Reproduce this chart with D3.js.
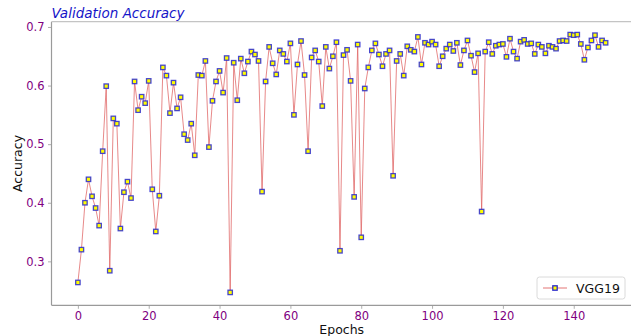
<!DOCTYPE html>
<html>
<head>
<meta charset="utf-8">
<script src="https://cdn.jsdelivr.net/npm/d3@7"></script>
<style>
  html, body { margin: 0; padding: 0; background: #fff; }
  svg { display: block; font-family: "DejaVu Sans", sans-serif; }
</style>
</head>
<body>
<svg id="chart" width="631" height="336"></svg>
<script>
// Validation accuracy of VGG19 per training epoch
const seriesName = "VGG19";
const epochs = d3.range(150);
const accuracy = [
  0.264, 0.320, 0.400, 0.440, 0.411, 0.391, 0.361, 0.488, 0.599, 0.284,
  0.544, 0.535, 0.356, 0.418, 0.436, 0.408, 0.607, 0.558, 0.581, 0.570,
  0.608, 0.423, 0.351, 0.412, 0.631, 0.617, 0.553, 0.605, 0.561, 0.580,
  0.517, 0.507, 0.535, 0.481, 0.618, 0.617, 0.642, 0.495, 0.574, 0.607,
  0.625, 0.588, 0.647, 0.247, 0.639, 0.575, 0.646, 0.621, 0.641, 0.658,
  0.653, 0.642, 0.419, 0.607, 0.666, 0.638, 0.619, 0.660, 0.654, 0.641,
  0.672, 0.550, 0.636, 0.676, 0.618, 0.488, 0.648, 0.660, 0.641, 0.565,
  0.666, 0.629, 0.650, 0.674, 0.318, 0.652, 0.661, 0.608, 0.410, 0.670,
  0.341, 0.595, 0.631, 0.660, 0.672, 0.653, 0.633, 0.654, 0.660, 0.446,
  0.642, 0.654, 0.617, 0.667, 0.661, 0.658, 0.683, 0.636, 0.673, 0.670,
  0.675, 0.670, 0.633, 0.650, 0.663, 0.670, 0.659, 0.673, 0.635, 0.660,
  0.677, 0.651, 0.623, 0.655, 0.385, 0.658, 0.674, 0.654, 0.668, 0.670,
  0.671, 0.649, 0.680, 0.658, 0.646, 0.675, 0.678, 0.671, 0.672, 0.654,
  0.670, 0.666, 0.655, 0.668, 0.666, 0.663, 0.676, 0.677, 0.676, 0.687,
  0.686, 0.687, 0.671, 0.644, 0.665, 0.677, 0.686, 0.666, 0.677, 0.673
];
const xTicks = [0, 20, 40, 60, 80, 100, 120, 140];
const yTicks = [0.3, 0.4, 0.5, 0.6, 0.7];

const svg = d3.select("#chart");
const plot = { left: 51.5, right: 632, top: 21.7, bottom: 305.3 };

// 5% padding around the data range on both axes
function padded(ext) {
  const m = (ext[1] - ext[0]) * 0.05;
  return [ext[0] - m, ext[1] + m];
}
const x = d3.scaleLinear().domain(padded(d3.extent(epochs))).range([plot.left, plot.right]);
const y = d3.scaleLinear().domain(padded(d3.extent(accuracy))).range([plot.bottom, plot.top]);

const tickColor = "#7f007f";

// axes
const xAxis = svg.append("g")
  .attr("transform", `translate(0,${plot.bottom})`)
  .call(d3.axisBottom(x).tickValues(xTicks).tickFormat(d3.format("d")).tickSizeInner(3.5).tickSizeOuter(0).tickPadding(3));
const yAxis = svg.append("g")
  .attr("transform", `translate(${plot.left},0)`)
  .call(d3.axisLeft(y).tickValues(yTicks).tickFormat(d3.format(".1f")).tickSizeInner(3.5).tickSizeOuter(0).tickPadding(3.5));

[xAxis, yAxis].forEach(g => {
  g.select(".domain").remove();
  g.selectAll(".tick line").attr("stroke", "#999").attr("stroke-width", 0.8);
  g.selectAll(".tick text").attr("fill", tickColor).style("font-size", "11.5px").style("font-family", "DejaVu Sans");
});

// spines
svg.append("line").attr("x1", plot.left).attr("x2", plot.left).attr("y1", plot.top).attr("y2", plot.bottom)
  .attr("stroke", "#9a9a9a").attr("stroke-width", 1.2);
svg.append("line").attr("x1", plot.left).attr("x2", plot.right).attr("y1", plot.bottom).attr("y2", plot.bottom)
  .attr("stroke", "#9a9a9a").attr("stroke-width", 1.2);
svg.append("line").attr("x1", plot.left).attr("x2", plot.right).attr("y1", plot.top).attr("y2", plot.top)
  .attr("stroke", "#c4c4c4").attr("stroke-width", 1.2);

// line
const line = d3.line().x((d, i) => x(epochs[i])).y(d => y(d));
svg.append("path").datum(accuracy)
  .attr("d", line)
  .attr("fill", "none")
  .attr("stroke", "#e06464")
  .attr("stroke-opacity", 0.85)
  .attr("stroke-width", 0.9);

// square markers
const ms = 4.4;
svg.append("g").selectAll("rect").data(accuracy).join("rect")
  .attr("x", (d, i) => x(epochs[i]) - ms / 2)
  .attr("y", d => y(d) - ms / 2)
  .attr("width", ms).attr("height", ms)
  .attr("fill", "#ffff00")
  .attr("stroke", "#2828d0")
  .attr("stroke-opacity", 0.85)
  .attr("stroke-width", 1.3);

// title
svg.append("text")
  .attr("x", plot.left).attr("y", 17.5)
  .attr("fill", "#1414c8")
  .style("font-size", "13.5px").style("font-style", "italic")
  .text("Validation Accuracy");

// axis labels
svg.append("text")
  .attr("x", (plot.left + plot.right) / 2).attr("y", 333.5)
  .attr("text-anchor", "middle").attr("fill", "#111")
  .style("font-size", "12.5px")
  .text("Epochs");
svg.append("text")
  .attr("transform", `translate(22,${(plot.top + plot.bottom) / 2}) rotate(-90)`)
  .attr("text-anchor", "middle").attr("fill", "#111")
  .style("font-size", "12.5px")
  .text("Accuracy");

// legend
const lg = svg.append("g").attr("transform", "translate(537,277)");
lg.append("rect").attr("width", 88).attr("height", 22).attr("rx", 2.5)
  .attr("fill", "#fff").attr("stroke", "#d6d6d6").attr("stroke-width", 0.9);
lg.append("line").attr("x1", 6).attr("x2", 30).attr("y1", 11).attr("y2", 11)
  .attr("stroke", "#e06464").attr("stroke-width", 0.9);
lg.append("rect").attr("x", 18 - ms / 2).attr("y", 11 - ms / 2).attr("width", ms).attr("height", ms)
  .attr("fill", "#ffff00").attr("stroke", "#2828d0").attr("stroke-width", 1.3);
lg.append("text").attr("x", 39).attr("y", 15.5).attr("fill", "#111")
  .style("font-size", "12.5px").text(seriesName);
</script>
</body>
</html>
